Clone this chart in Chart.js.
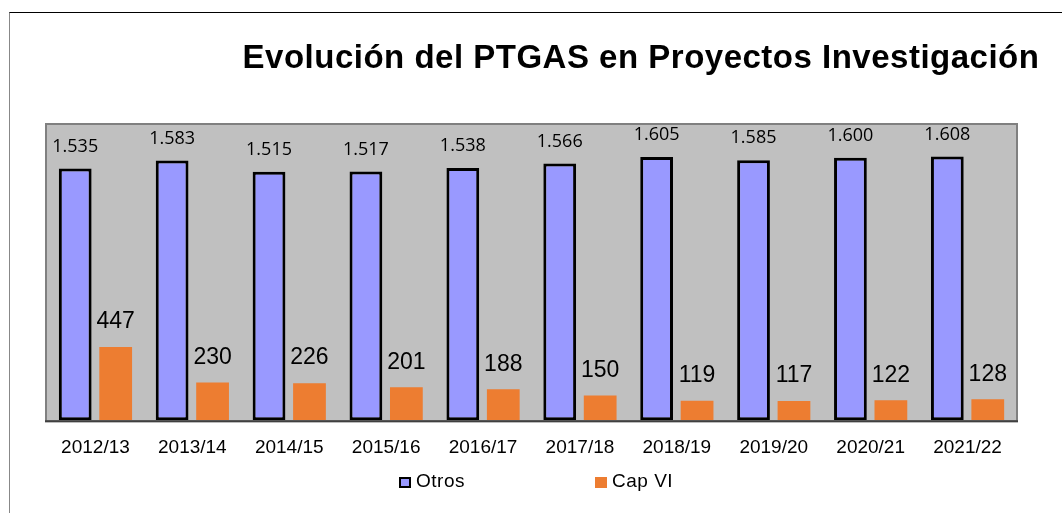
<!DOCTYPE html>
<html>
<head>
<meta charset="utf-8">
<script src="https://cdn.jsdelivr.net/npm/chart.js@4"></script>
<style>
  body { margin: 0; background: #fff; }
  #wrap { position: relative; width: 1062px; height: 513px; overflow: hidden; }
  #frame { position: absolute; left: 9px; top: 12px; right: -10px; bottom: -10px;
           border-top: 1px solid #000; border-left: 1px solid #888; }
  #title { position: absolute; left: 191px; width: 900px; top: 38px; text-align: center;
           font: bold 33px "Liberation Sans", Arial, sans-serif; letter-spacing: 0.5px; color: #000; white-space: nowrap; }
  .leg { position: absolute; top: 470px; font: 19px "Liberation Sans", Arial, sans-serif; letter-spacing: 0.5px; color: #000; }
  .leg span.box { display: inline-block; width: 12px; height: 11px; margin-right: 5px; vertical-align: -1px; box-sizing: border-box; }
  canvas { position: absolute; left: 0; top: 0; }
</style>
</head>
<body>
<div id="wrap">
  <div id="frame"></div>
  <canvas id="myChart" width="1062" height="513"></canvas>
  <div id="title">Evolución del PTGAS en Proyectos Investigación</div>
  <div class="leg" id="leg0" style="left:399px"></div>
  <div class="leg" id="leg1" style="left:595px"></div>
</div>
<script>
const categories = ['2012/13', '2013/14', '2014/15', '2015/16', '2016/17', '2017/18', '2018/19', '2019/20', '2020/21', '2021/22'];
const otros = [1535, 1583, 1515, 1517, 1538, 1566, 1605, 1585, 1600, 1608];
const capVI = [447, 230, 226, 201, 188, 150, 119, 117, 122, 128];
const seriesNames = ['Otros', 'Cap VI'];
const seriesColors = ['#9999FF', '#ED7D31'];

function fmtThousands(v) {
    return String(v).replace(/\B(?=(\d{3})+(?!\d))/g, '.');
}

// gray plot area with frame
const plotBg = {
    id: 'plotBg',
    beforeDraw(chart) {
        const { ctx, chartArea: a } = chart;
        ctx.save();
        ctx.fillStyle = '#C0C0C0';
        ctx.fillRect(a.left, a.top, a.right - a.left, a.bottom - a.top);
        ctx.strokeStyle = '#808080';
        ctx.lineWidth = 2;
        ctx.strokeRect(a.left - 1, a.top - 1, a.right - a.left + 2, a.bottom - a.top + 2);
        ctx.restore();
    },
    afterDatasetsDraw(chart) {
        const { ctx, chartArea: a } = chart;
        ctx.save();
        ctx.strokeStyle = '#404040';
        ctx.lineWidth = 2;
        ctx.beginPath();
        ctx.moveTo(a.left - 2, a.bottom + 1);
        ctx.lineTo(a.right + 2, a.bottom + 1);
        ctx.stroke();
        ctx.restore();
    }
};

// value labels above bars
const barLabels = {
    id: 'barLabels',
    afterDatasetsDraw(chart) {
        const ctx = chart.ctx;
        ctx.save();
        ctx.fillStyle = '#000';
        ctx.textAlign = 'center';
        ctx.textBaseline = 'middle';
        chart.data.datasets.forEach((ds, i) => {
            const meta = chart.getDatasetMeta(i);
            if (i === 0) {
                ctx.font = '18px "Open Sans", sans-serif';
            } else {
                ctx.font = '23px "Liberation Sans", Arial, sans-serif';
            }
            meta.data.forEach((el, j) => {
                const v = ds.data[j];
                const txt = i === 0 ? fmtThousands(v) : String(v);
                ctx.fillText(txt, el.x, el.y - (i === 0 ? 22 : 25));
            });
        });
        ctx.restore();
    }
};

new Chart(document.getElementById('myChart'), {
    type: 'bar',
    data: {
        labels: categories,
        datasets: [{
            label: seriesNames[0],
            data: otros,
            backgroundColor: seriesColors[0],
            borderColor: '#000',
            borderWidth: 3,
            borderSkipped: false
        }, {
            label: seriesNames[1],
            data: capVI,
            backgroundColor: seriesColors[1],
            borderWidth: 0
        }]
    },
    options: {
        responsive: false,
        animation: false,
        categoryPercentage: 0.835,
        barPercentage: 0.81,
        layout: { padding: { left: 47, right: 46, top: 125, bottom: 46 } },
        plugins: {
            legend: { display: false },
            title: { display: false },
            tooltip: { enabled: false }
        },
        scales: {
            x: {
                grid: { display: false },
                border: { display: false },
                ticks: {
                    color: '#000',
                    padding: 8,
                    font: { family: '"Liberation Sans", Arial, sans-serif', size: 19 }
                }
            },
            y: {
                display: false,
                min: 0,
                max: 1800
            }
        }
    },
    plugins: [plotBg, barLabels]
});

// legend
seriesNames.forEach((name, i) => {
    const el = document.getElementById('leg' + i);
    const border = i === 0 ? '2px solid #000' : 'none';
    el.innerHTML = '<span class="box" style="background:' + seriesColors[i] + ';border:' + border + '"></span>' + name;
});
</script>
</body>
</html>
